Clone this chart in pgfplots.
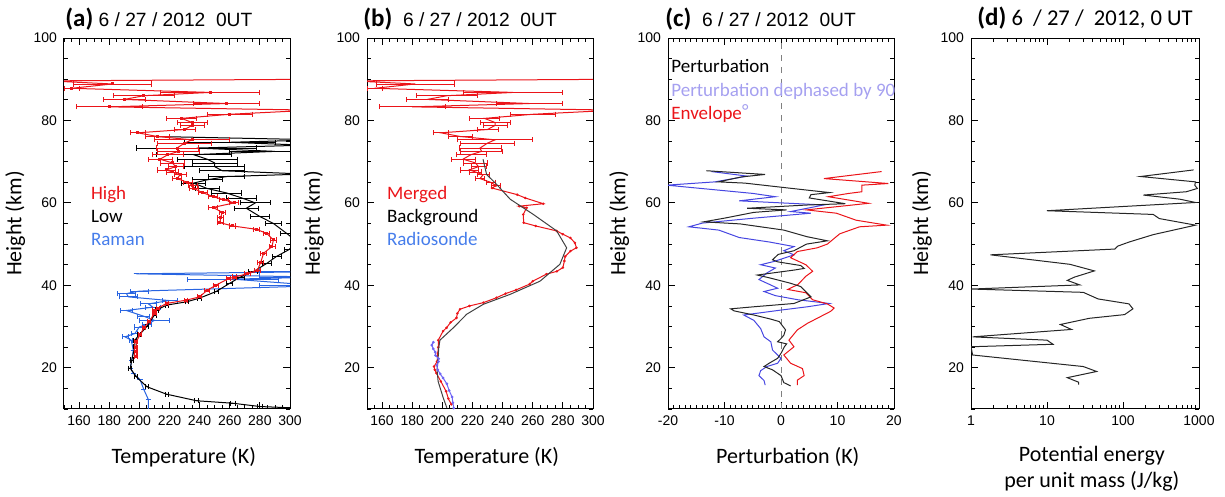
\documentclass[border=0pt]{standalone}
\usepackage{fontspec}
\setmainfont{Carlito}
\newfontfamily\arial{Liberation Sans}
\usepackage{pgfplots}
\usepackage{pgfplotstable}
\pgfplotsset{compat=1.18}

\definecolor{hred}{RGB}{235,20,25}
\definecolor{raman}{RGB}{40,100,225}
\definecolor{ramantext}{RGB}{70,125,235}
\definecolor{sonde}{RGB}{110,100,245}
\definecolor{dephline}{RGB}{70,70,225}
\definecolor{dephtext}{RGB}{165,160,240}

% lidar temperature, high channel, above 64 km (shared by a and b)
\pgfplotstableread{
h T e
64.2 235.6 3
65.0 232 3
65.9 225 3
66.8 227 4
67.5 222 4
68.0 218 6
68.8 224 5
69.7 222 8
70.6 213.7 8
71.7 219 10
72.5 226 14
73.3 225 14
74.5 230 18
75.3 235 25
76.1 212 8
77.0 199 5
77.8 230 7
78.8 235 8
79.5 235 10
80.5 228 10
81.5 260 15
82.5 315 0
83.3 180 22
84.1 258 22
85.1 190 14
86.0 203 20
86.8 247 33
87.8 155 5
88.85 182 26
89.6 140 0
90.0 320 0
}\redhigh

\pgfplotstableread{
h T e
22.7 198 1
24.0 198 1
25.0 198 1
26.4 198 1
28.0 200.5 1
29.7 203 1
31.2 206.5 1
33.2 210 1
34.0 210 1.5
34.4 212 1
35.6 218 1
36.4 231 1
37.2 240 1.5
38.8 245 1.5
40.0 250.7 1.5
41.6 259 1.5
42.0 263 1.5
42.8 271.7 2
43.6 278.3 2
45.5 280.5 2
47.8 282.5 2
49.4 288 2
51.0 289 2
52.6 284.5 2
53.6 277.6 2
54.4 262 2
55.2 253.5 2
56.5 254 2
57.7 255 2
58.9 249 3
60.0 263 3
60.8 256 3
61.5 249 3
62.5 242 3
63.5 236 3
64.2 235.6 3
}\redlowA

\pgfplotstableread{
h T e
10.3 300 0
10.6 280 1.5
11.4 262 1.5
12.0 238 1.5
13.6 218 1
15.4 205 1
17.8 198 1
19.9 194 1
21.9 195 1
25.1 197 1
26.7 197 1
28.0 200 1
30.0 205 1
32.8 210 1
34.0 211.5 1
35.2 218 1
36.0 231.4 1
36.9 240 1.5
38.5 251 1.5
40.5 260 2
42.0 267 2.5
43.3 275.6 3
45.3 284.5 3
47.0 291 3
48.6 299 3
50.5 305 4
52.6 297.8 4
55.0 289 5
56.7 280 6
58.7 271 8
60.0 277 10
61.2 268 10
62.4 258 10
63.5 245 8
64.8 236 8
65.6 245 10
66.4 258 12
67.0 310 0
67.8 255 15
68.8 250 20
69.7 250 15
70.6 245 20
71.7 236 25
72.5 290 30
73.3 238 40
74.0 310 0
74.7 260 30
75.3 320 0
76.1 212 0
}\lowA

\pgfplotstableread{
h T e
10.0 206 0
12.3 206 0
14.7 203 0
17.1 200.5 0
18.7 196 0
19.9 194 0
21.9 195 0
24.3 196 0
26.7 194.6 1
27.5 190.5 2
28.3 197 2
29.9 200 3
30.5 205 3
31.5 210 10
32.5 203 4
33.9 191.4 4
34.7 209 5
35.5 206 5
36.3 220 5
37.2 192.7 6
38.0 191.5 6
38.6 200 6
39.9 320 40
41.5 262 30
42.0 320 40
42.8 198 0
43.3 320 40
}\ramanA

\pgfplotstableread{
h T
11.1 206
12.5 204
14.3 202.5
16.7 199
18.7 196
19.5 195
20.3 194.5
21.5 196.5
23.5 197
25.0 197.3
26.7 197.3
28.9 200.5
29.7 202.8
31.0 205.5
32.1 209.4
33.2 210
34.2 211.7
35.0 218
35.8 227.2
37.0 236
38.0 242
38.9 249
40.3 258
41.0 260
42.7 269
43.4 276
44.3 280
45.9 281
47.0 281.5
48.3 285
49.1 289
50.3 288
51.5 285
52.4 280
53.2 275.9
54.4 262
55.2 254
57.2 253.7
58.8 256
59.2 251
59.8 267
61.2 255
62.0 249.7
63.6 233
64.2 235.6
}\mergedlow

\pgfplotstableread{
h T
10.3 203
12.7 200.6
16.7 197.2
19.5 196.5
22.4 197.2
24.8 197.6
26.7 198.4
29.7 207.3
33.0 216.2
35.4 227.2
37.8 244.9
41.0 264.8
45.1 278
49.1 282.5
53.2 275.9
57.2 260.4
60.9 245
64.5 236
66.9 229.4
70.6 227
}\backgr

\pgfplotstableread{
h T
10.2 207.6
11.5 207
12.9 206.5
14.5 204.5
16.1 203
17.5 200.5
18.5 198.6
19.5 197
20.6 196.4
21.5 197.5
22.2 197.5
23.0 195.5
23.8 195.3
24.6 194
25.5 193
26.2 194
}\sonde

\pgfplotstableread{
h P
15.6 1.7
16.4 0.5
18.1 0.0
19.5 -1.5
20.3 -3.0
21.1 -2.1
22.3 -0.6
23.5 0.0
25.1 0.6
25.8 1.0
26.3 -0.6
27.1 0.0
27.9 0.5
29.2 0.8
31.2 -0.3
31.8 -1.8
32.8 -4.8
33.8 -8.3
34.3 -8.9
34.8 -4.8
35.6 2.3
37.2 5.3
39.7 3.5
40.5 1.7
41.8 -2.0
42.5 -4.2
43.7 2.3
44.1 4.1
44.8 3.5
45.7 -0.6
46.2 -1.5
47.5 -0.5
48.4 2.3
50.0 4.5
50.8 8.2
51.8 4.6
53.4 0.5
54.9 -7.2
55.4 -13.7
56.3 -10.0
57.7 -4.8
58.3 1.0
58.7 -6.0
59.5 4.8
59.8 11.4
61.2 5.0
62.0 5.3
62.5 8.6
63.5 2.0
64.8 -6.4
65.1 -11.1
66.3 -7.0
66.9 -2.8
67.8 -13.2
}\pert

\pgfplotstableread{
h P
15.8 -2.8
16.9 -3.0
18.1 -3.9
19.3 -3.6
20.3 -2.5
21.1 -0.6
22.3 0.0
24.3 -1.5
26.3 -1.8
27.5 -3.0
29.5 -3.6
31.5 -4.8
32.8 -6.6
34.0 0.0
34.8 4.7
35.6 8.5
36.5 3.0
37.5 -1.0
38.5 -3.0
39.3 -0.6
40.2 -2.0
41.4 -3.9
43.0 -2.5
44.2 -1.0
45.0 -3.6
45.8 -1.2
47.4 2.3
48.4 0.5
49.4 2.3
50.5 -2.0
51.6 -7.4
53.4 -11.0
54.2 -16.3
55.1 -13.9
56.3 -4.8
57.5 5.3
57.9 1.7
59.5 7.6
60.5 -7.4
61.5 -1.0
62.3 -5.0
64.3 -20.2
65.1 -11.7
66.1 -7.6
66.5 -6.0
67.6 -12.3
}\deph

\pgfplotstableread{
h P
15.8 2.9
17.0 2.9
18.1 4.1
19.8 3.8
21.1 1.7
23.1 0.5
25.1 2.3
26.7 1.4
29.2 2.9
30.8 4.7
33.7 8.8
34.5 9.4
35.5 8.2
36.5 5.6
38.2 4.4
39.0 1.2
40.2 3.0
42.2 4.4
43.4 5.6
45.0 4.4
46.7 1.7
48.2 2.9
49.1 6.4
50.0 8.2
52.5 10.4
54.2 13.9
54.6 18.7
55.8 13.3
57.5 9.8
58.3 4.5
59.9 15.5
61.5 8.4
62.3 12.0
62.7 14.3
64.3 14.3
64.7 19.0
65.9 7.6
67.6 17.8
}\envel

\pgfplotstableread{
h E
68.0 850
66.4 170
65.1 900
64.3 880
63.5 950
62.7 680
61.9 185
60.9 560
60.1 900
58.1 10
57.2 250
56.2 300
54.6 900
52.3 250
50.5 120
49.5 85
48.8 78
47.4 1.8
45.1 20
43.5 42
42.0 23
41.2 18.5
40.1 27
39.1 1.0
38.3 30
36.7 47
35.5 120
34.3 135
32.9 105
32.0 36
30.5 15
29.3 21
27.5 1.05
26.7 10
25.7 12
25.1 1.0
23.1 1.05
20.3 30
19.1 45
17.6 18.5
16.5 26
15.9 26
}\epot

\tikzset{
  leg/.style={anchor=base west, inner sep=0pt, font=\fontsize{9.5}{11}\selectfont},
  ttl/.style={anchor=base west, inner sep=0pt, font=\arial\fontsize{9.6}{11}\selectfont},
}

\pgfplotsset{
  panel/.style={
    scale only axis, width=113pt, height=185.5pt, anchor=south west,
    ymin=10, ymax=100, ytick={20,40,60,80,100}, minor ytick={10,15,...,100},
    ylabel={Height (km)},
    tick label style={font=\arial\fontsize{7}{8}\selectfont},
    /pgf/number format/assume math mode=true,
    axis line style={line width=0.5pt},
    every tick/.append style={line width=0.4pt, black},
    major tick length=3.5pt, minor tick length=2pt,
    xlabel style={font=\fontsize{11}{13}\selectfont, at={(axis description cs:0.53,-0.1456)}, anchor=base, inner sep=0pt},
    ylabel style={font=\fontsize{11}{13}\selectfont, at={(axis description cs:-0.17,0.5)}, anchor=south, inner sep=0pt},
    clip mode=individual,
  },
  tempx/.style={xmin=150, xmax=300, xtick={160,180,...,300}, minor xtick={150,155,...,300}, xlabel={Temperature (K)}},
  errs/.style={error bars/.cd, x dir=both, x explicit, error mark=|, error bar style={line width=0.4pt}, error mark options={mark size=1.3pt, line width=0.4pt}},
}

\newcommand{\lab}[1]{{\normalfont\bfseries\fontsize{12.5}{14}\selectfont (#1)}}

\begin{document}
\begin{tikzpicture}
\path[use as bounding box] (0,0) rectangle (612.5pt,248.5pt);

% (a)
\begin{axis}[panel, tempx, at={(32pt,44pt)}]
\addplot[raman, line width=0.5pt, mark=none, errs] table[x=T, y=h, x error=e] {\ramanA};
\addplot[black, line width=0.5pt, mark=none, errs] table[x=T, y=h, x error=e] {\lowA};
\addplot[hred, line width=0.5pt, mark=square*, mark size=0.5pt, errs] table[x=T, y=h, x error=e] {\redlowA};
\addplot[hred, line width=0.5pt, mark=square*, mark size=0.5pt, errs] table[x=T, y=h, x error=e] {\redhigh};
\node[leg, text=hred] at (axis description cs:0.118,0.566) {High};
\node[leg, text=black] at (axis description cs:0.118,0.504) {Low};
\node[leg, text=ramantext] at (axis description cs:0.118,0.442) {Raman};
\end{axis}

% (b)
\begin{axis}[panel, tempx, at={(183.5pt,44pt)},
  ylabel style={at={(axis description cs:-0.19,0.5)}}]
\addplot[hred, line width=0.5pt, mark=*, mark size=0.35pt] table[x=T, y=h] {\mergedlow};
\addplot[hred, line width=0.5pt, mark=none, errs] table[x=T, y=h, x error=e] {\redhigh};
\addplot[black!75, line width=0.5pt, mark=none] table[x=T, y=h] {\backgr};
\addplot[sonde, line width=0.5pt, mark=*, mark size=0.4pt] table[x=T, y=h] {\sonde};
\node[leg, text=hred] at (axis description cs:0.087,0.566) {Merged};
\node[leg, text=black] at (axis description cs:0.087,0.504) {Background};
\node[leg, text=ramantext] at (axis description cs:0.087,0.442) {Radiosonde};
\end{axis}

% (c)
\begin{axis}[panel, at={(334pt,44pt)},
  xmin=-20, xmax=20, xtick={-20,-10,0,10,20}, minor xtick={-20,-19,...,20},
  xlabel={Perturbation (K)}]
\addplot[gray, dashed, line width=0.4pt] coordinates {(0,10) (0,100)};
\addplot[dephline, line width=0.5pt, mark=none] table[x=P, y=h] {\deph};
\addplot[hred, line width=0.5pt, mark=none] table[x=P, y=h] {\envel};
\addplot[black!85, line width=0.5pt, mark=none] table[x=P, y=h] {\pert};
\node[leg, text=black] at (axis description cs:0.013,0.906) {Perturbation};
\node[leg, text=dephtext] at (axis description cs:0.013,0.842) {Perturbation dephased by 90};
\node[leg, text=hred] at (axis description cs:0.013,0.781) {Envelope};
\node[text=dephtext, inner sep=0pt, anchor=north, font=\fontsize{9.5}{11}\selectfont] at (axis description cs:0.342,0.823) {°};
\end{axis}

% (d)
\begin{axis}[panel, at={(485.5pt,44pt)}, width=114pt,
  xmode=log, xmin=1, xmax=1000, xtick={1,10,100,1000}, xticklabels={1,10,100,1000},
  xlabel={Potential energy\\per unit mass (J/kg)},
  xlabel style={align=center, anchor=north, at={(axis description cs:0.53,-0.1)}}]
\addplot[black!85, line width=0.5pt, mark=none] table[x=E, y=h] {\epot};
\end{axis}

% panel titles
\node[ttl] at (32.5pt,235.2pt) {\lab{a} 6 / 27 / 2012\ \ 0UT};
\node[ttl] at (181.5pt,235.2pt) {\lab{b}\ \ 6 / 27 / 2012\ \ 0UT};
\node[ttl] at (332.5pt,235.2pt) {\lab{c}\ \ 6 / 27 / 2012\ \ 0UT};
\node[ttl, font=\fontsize{11.3}{13}\selectfont] at (488.5pt,235.5pt) {\lab{d} 6\ \ / 27 /\ \ 2012, 0 UT};
\end{tikzpicture}
\end{document}
